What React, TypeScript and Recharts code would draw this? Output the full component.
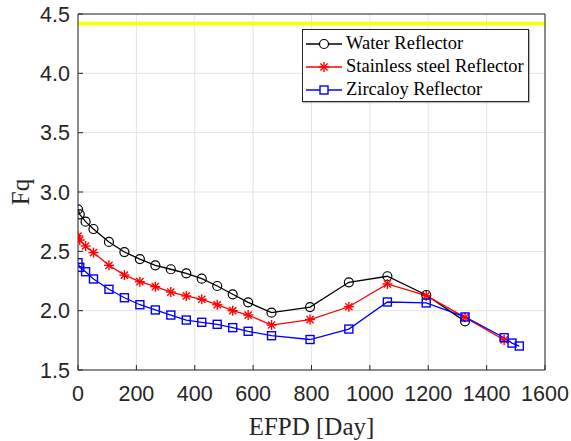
import { LineChart, Line, XAxis, YAxis, CartesianGrid, ReferenceLine, Legend, Label } from 'recharts';

const waterDays = [0, 6, 26, 53, 106, 159, 212, 265, 318, 371, 424, 477, 530, 583, 663, 795, 928, 1060, 1193, 1326];
const waterFq = [2.854, 2.812, 2.75, 2.688, 2.579, 2.494, 2.435, 2.382, 2.349, 2.315, 2.27, 2.208, 2.138, 2.07, 1.983, 2.03, 2.239, 2.29, 2.132, 1.91];

const steelDays = [...waterDays, 1460];
const steelFq = [2.629, 2.595, 2.545, 2.489, 2.382, 2.3, 2.244, 2.202, 2.157, 2.124, 2.096, 2.05, 2.0, 1.963, 1.879, 1.925, 2.033, 2.225, 2.126, 1.944, 1.753];

const zircDays = [...waterDays, 1460, 1487, 1512];
const zircFq = [2.404, 2.365, 2.328, 2.267, 2.18, 2.109, 2.05, 2.006, 1.963, 1.921, 1.902, 1.885, 1.857, 1.826, 1.789, 1.757, 1.845, 2.073, 2.065, 1.947, 1.772, 1.727, 1.702];

const fqLimit = 4.42;
const xTicks = [0, 200, 400, 600, 800, 1000, 1200, 1400, 1600];
const yTicks = [1.5, 2.0, 2.5, 3.0, 3.5, 4.0, 4.5];

const waterData = waterDays.map((d, i) => ({ day: d, fq: waterFq[i] }));
const steelData = steelDays.map((d, i) => ({ day: d, fq: steelFq[i] }));
const zircData = zircDays.map((d, i) => ({ day: d, fq: zircFq[i] }));

const AXIS = '#262626';
const SANS = '"Liberation Sans", Arial, sans-serif';
const SERIF = '"Liberation Serif", "Times New Roman", serif';

const CircleDot = ({ cx, cy }: any) =>
  cx == null ? null : <circle cx={cx} cy={cy} r={4.5} fill="none" stroke="#000" strokeWidth={1.2} />;

const StarDot = ({ cx, cy, color = '#ff0000', s = 5 }: any) => {
  if (cx == null) return null;
  const d = s * 0.72;
  return (
    <g stroke={color} strokeWidth={1.4}>
      <line x1={cx - s} y1={cy} x2={cx + s} y2={cy} />
      <line x1={cx} y1={cy - s} x2={cx} y2={cy + s} />
      <line x1={cx - d} y1={cy - d} x2={cx + d} y2={cy + d} />
      <line x1={cx - d} y1={cy + d} x2={cx + d} y2={cy - d} />
    </g>
  );
};

const SquareDot = ({ cx, cy }: any) =>
  cx == null ? null : <rect x={cx - 4} y={cy - 4} width={8} height={8} fill="none" stroke="#0000ff" strokeWidth={1.4} />;

const legendItems = [
  { name: 'Water Reflector', color: '#000000', marker: 'circle' },
  { name: 'Stainless steel Reflector', color: '#ff0000', marker: 'star' },
  { name: 'Zircaloy Reflector', color: '#0000ff', marker: 'square' },
];

const LegendBox = () => (
  <div
    style={{
      width: 225,
      height: 71,
      border: '1px solid #262626',
      background: '#fff',
      boxShadow: '1px 1px 1px rgba(0,0,0,0.25)',
      boxSizing: 'content-box',
      fontFamily: SERIF,
      fontSize: 18.5,
      color: '#000',
    }}
  >
    {legendItems.map((it, i) => (
      <div key={it.name} style={{ position: 'absolute', left: 0, top: 3 + i * 23, height: 23, display: 'flex', alignItems: 'center' }}>
        <svg width={44} height={23} style={{ display: 'block' }}>
          <line x1={4} y1={12} x2={40} y2={12} stroke={it.color} strokeWidth={1.5} />
          {it.marker === 'circle' && <circle cx={22} cy={12} r={4.5} fill="#fff" stroke={it.color} strokeWidth={1.2} />}
          {it.marker === 'star' && <StarDot cx={22} cy={12} />}
          {it.marker === 'square' && <rect x={18} y={8} width={8} height={8} fill="#fff" stroke={it.color} strokeWidth={1.4} />}
        </svg>
        <span style={{ whiteSpace: 'nowrap', lineHeight: '23px' }}>{it.name}</span>
      </div>
    ))}
  </div>
);

export default function App() {
  return (
    <div style={{ position: 'absolute', left: 0, top: 0, width: 571, height: 441, background: '#fff' }}>
      <LineChart width={571} height={441} margin={{ top: 13, right: 25, left: 0, bottom: 0 }}>
        <CartesianGrid stroke="#e3e3e3" strokeWidth={1} />
        <XAxis
          dataKey="day"
          type="number"
          domain={[0, 1600]}
          ticks={xTicks}
          allowDataOverflow
          height={71}
          stroke={AXIS}
          tickSize={-5}
          tickMargin={21}
          tick={{ fill: AXIS, fontSize: 21.5, fontFamily: SANS }}
        >
          <Label value="EFPD [Day]" position="insideBottom" offset={6} style={{ fill: AXIS, fontSize: 25, fontFamily: SERIF }} />
        </XAxis>
        <XAxis xAxisId="top" orientation="top" type="number" domain={[0, 1600]} ticks={xTicks} height={1} stroke={AXIS} tickSize={-5} tick={false} />
        <YAxis
          type="number"
          domain={[1.5, 4.5]}
          ticks={yTicks}
          allowDataOverflow
          width={78}
          stroke={AXIS}
          tickSize={-5}
          tickMargin={13}
          tickFormatter={(v) => v.toFixed(1)}
          tick={{ fill: AXIS, fontSize: 21.5, fontFamily: SANS }}
        >
          <Label value="Fq" angle={-90} position="insideLeft" offset={20} style={{ fill: AXIS, fontSize: 25, fontFamily: SERIF, textAnchor: 'middle' }} />
        </YAxis>
        <YAxis yAxisId="right" orientation="right" type="number" domain={[1.5, 4.5]} ticks={yTicks} width={1} stroke={AXIS} tickSize={-5} tick={false} />
        <ReferenceLine y={fqLimit} stroke="#ffff00" strokeWidth={3.5} />
        <Line data={waterData} dataKey="fq" name="Water Reflector" stroke="#000000" strokeWidth={1.3} dot={<CircleDot />} activeDot={false} isAnimationActive={false} />
        <Line data={steelData} dataKey="fq" name="Stainless steel Reflector" stroke="#ff0000" strokeWidth={1.3} dot={<StarDot />} activeDot={false} isAnimationActive={false} />
        <Line data={zircData} dataKey="fq" name="Zircaloy Reflector" stroke="#0000ff" strokeWidth={1.3} dot={<SquareDot />} activeDot={false} isAnimationActive={false} />
        <Legend
          layout="horizontal"
          verticalAlign="middle"
          align="center"
          content={<LegendBox />}
          wrapperStyle={{ position: 'absolute', left: 302, top: 29, width: 227, height: 73 }}
        />
      </LineChart>
    </div>
  );
}
